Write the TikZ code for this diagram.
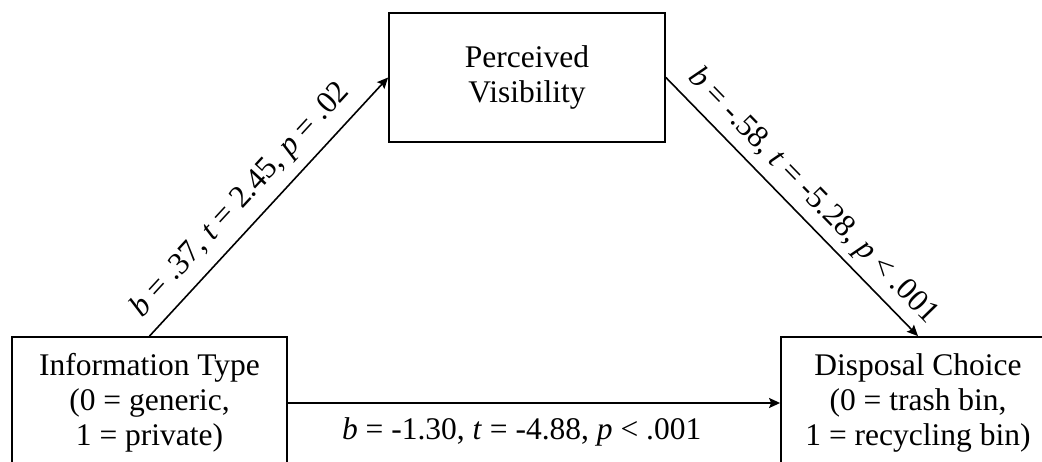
\documentclass[tikz,border=0pt]{standalone}
\usepackage{fontspec}
\setmainfont{Liberation Serif}
\usetikzlibrary{arrows.meta}

\begin{document}
\begin{tikzpicture}[x=1pt,y=-1pt,>={Stealth[length=11pt,width=10pt,inset=2pt]},
  box/.style={draw,line width=1.8pt,align=center,inner sep=0pt,
    font=\fontsize{31.5}{35}\selectfont},
  lbl/.style={inner sep=2pt,font=\fontsize{31.5}{35}\selectfont}]
  \useasboundingbox (0,0) rectangle (1042,462);
  \clip (0,0) rectangle (1042,462);
  \node[box,minimum width=276,minimum height=129] (pv) at (527,77.5)
    {Perceived\\Visibility};
  \node[box,minimum width=275,minimum height=132] (it) at (149.5,403)
    {Information Type\\(0 = generic,\\1 = private)};
  \node[box,minimum width=274,minimum height=132] (dc) at (918,403)
    {Disposal Choice\\(0 = trash bin,\\1 = recycling bin)};
  \draw[->,line width=1.6pt] (it.north)--(pv.west)
    node[lbl,pos=.46,sloped,above=8pt]{\textit{b} = .37, \textit{t} = 2.45, \textit{p} = .02};
  \draw[->,line width=1.6pt] (pv.east)--(dc.north)
    node[lbl,pos=.52,sloped,above=5pt]{\textit{b} = -.58, \textit{t} = -5.28, \textit{p} < .001};
  \draw[->,line width=1.6pt] (it.east)--(dc.west)
    node[lbl,pos=.475,below=12pt]{\textit{b} = -1.30, \textit{t} = -4.88, \textit{p} < .001};
\end{tikzpicture}
\end{document}
